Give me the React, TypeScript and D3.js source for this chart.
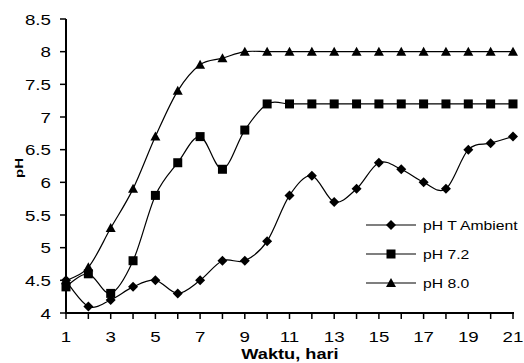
import React from "react";
import * as d3 from "d3";

const days = d3.range(1, 22);
const ambient = [4.5, 4.1, 4.2, 4.4, 4.5, 4.3, 4.5, 4.8, 4.8, 5.1, 5.8, 6.1, 5.7, 5.9, 6.3, 6.2, 6.0, 5.9, 6.5, 6.6, 6.7];
const ph72 = [4.4, 4.6, 4.3, 4.8, 5.8, 6.3, 6.7, 6.2, 6.8, 7.2, 7.2, 7.2, 7.2, 7.2, 7.2, 7.2, 7.2, 7.2, 7.2, 7.2, 7.2];
const ph80 = [4.5, 4.7, 5.3, 5.9, 6.7, 7.4, 7.8, 7.9, 8.0, 8.0, 8.0, 8.0, 8.0, 8.0, 8.0, 8.0, 8.0, 8.0, 8.0, 8.0, 8.0];
const seriesNames = ["pH T Ambient", "pH 7.2", "pH 8.0"];
const yTicks = [4, 4.5, 5, 5.5, 6, 6.5, 7, 7.5, 8, 8.5];
const xLabels = [1, 3, 5, 7, 9, 11, 13, 15, 17, 19, 21];

const W = 524, H = 363;
const x = d3.scaleLinear().domain([1, 21]).range([66, 513]);
const y = d3.scaleLinear().domain([4, 8.5]).range([313, 19]);
const FONT = "Liberation Sans, Arial, sans-serif";

function Marker({ type, cx, cy }: { type: string; cx: number; cy: number }) {
  if (type === "diamond") {
    const r = 5;
    return <path d={`M${cx},${cy - r}L${cx + r},${cy}L${cx},${cy + r}L${cx - r},${cy}Z`} fill="#000" />;
  }
  if (type === "square") {
    const s = 4.5;
    return <rect x={cx - s} y={cy - s} width={2 * s} height={2 * s} fill="#000" />;
  }
  return <path d={`M${cx},${cy - 5}L${cx + 5},${cy + 4}L${cx - 5},${cy + 4}Z`} fill="#000" />;
}

function T({ x, y, sx, size, anchor, bold, children }: any) {
  return (
    <text
      transform={`translate(${x},${y}) scale(${sx},1)`}
      textAnchor={anchor || "start"}
      fontFamily={FONT}
      fontSize={size}
      fontWeight={bold ? "bold" : "normal"}
      fill="#000"
    >
      {children}
    </text>
  );
}

export default function App() {
  const series = [
    { name: seriesNames[0], values: ambient, marker: "diamond" },
    { name: seriesNames[1], values: ph72, marker: "square" },
    { name: seriesNames[2], values: ph80, marker: "triangle" },
  ];
  const line = d3
    .line<number>()
    .x((_, i) => x(days[i]))
    .y((v) => y(v))
    .curve(d3.curveCardinal.tension(0));
  const legendY = [225, 254, 283];
  return (
    <svg width={W} height={H} style={{ position: "absolute", left: 0, top: 0, background: "#fff" }}>
      {series.map((s) => (
        <path key={s.name} d={line(s.values) || ""} fill="none" stroke="#000" strokeWidth={1.2} />
      ))}
      {series.map((s) =>
        s.values.map((v, i) => <Marker key={s.name + i} type={s.marker} cx={x(days[i])} cy={y(v)} />)
      )}
      <line x1={66} x2={66} y1={y(8.5)} y2={y(4) + 1} stroke="#000" strokeWidth={2} />
      <line x1={65} x2={x(21) + 1} y1={y(4)} y2={y(4)} stroke="#000" strokeWidth={2} />
      {yTicks.map((t) => (
        <g key={"y" + t}>
          <line x1={60} x2={66} y1={y(t)} y2={y(t)} stroke="#000" strokeWidth={1.5} />
          <T x={51} y={y(t) + 5.5} sx={1.25} size={15} anchor="end">
            {t}
          </T>
        </g>
      ))}
      {days.map((d) => (
        <line key={"xt" + d} x1={x(d)} x2={x(d)} y1={y(4)} y2={y(4) + 6} stroke="#000" strokeWidth={1.5} />
      ))}
      {xLabels.map((d) => (
        <T key={"xl" + d} x={x(d)} y={342} sx={1.25} size={15} anchor="middle">
          {d}
        </T>
      ))}
      <T x={290} y={359} sx={1.3} size={14} anchor="middle" bold>
        Waktu, hari
      </T>
      <text
        transform={`translate(23,168) rotate(-90) scale(1.07,0.8)`}
        textAnchor="middle"
        fontFamily={FONT}
        fontSize={14}
        fontWeight="bold"
        fill="#000"
      >
        pH
      </text>
      {series.map((s, i) => (
        <g key={"lg" + s.name}>
          <line x1={366} x2={416} y1={legendY[i]} y2={legendY[i]} stroke="#000" strokeWidth={1.2} />
          <Marker type={s.marker} cx={391} cy={legendY[i]} />
          <T x={423} y={legendY[i] + 4.5} sx={1.31} size={12}>
            {s.name}
          </T>
        </g>
      ))}
    </svg>
  );
}
